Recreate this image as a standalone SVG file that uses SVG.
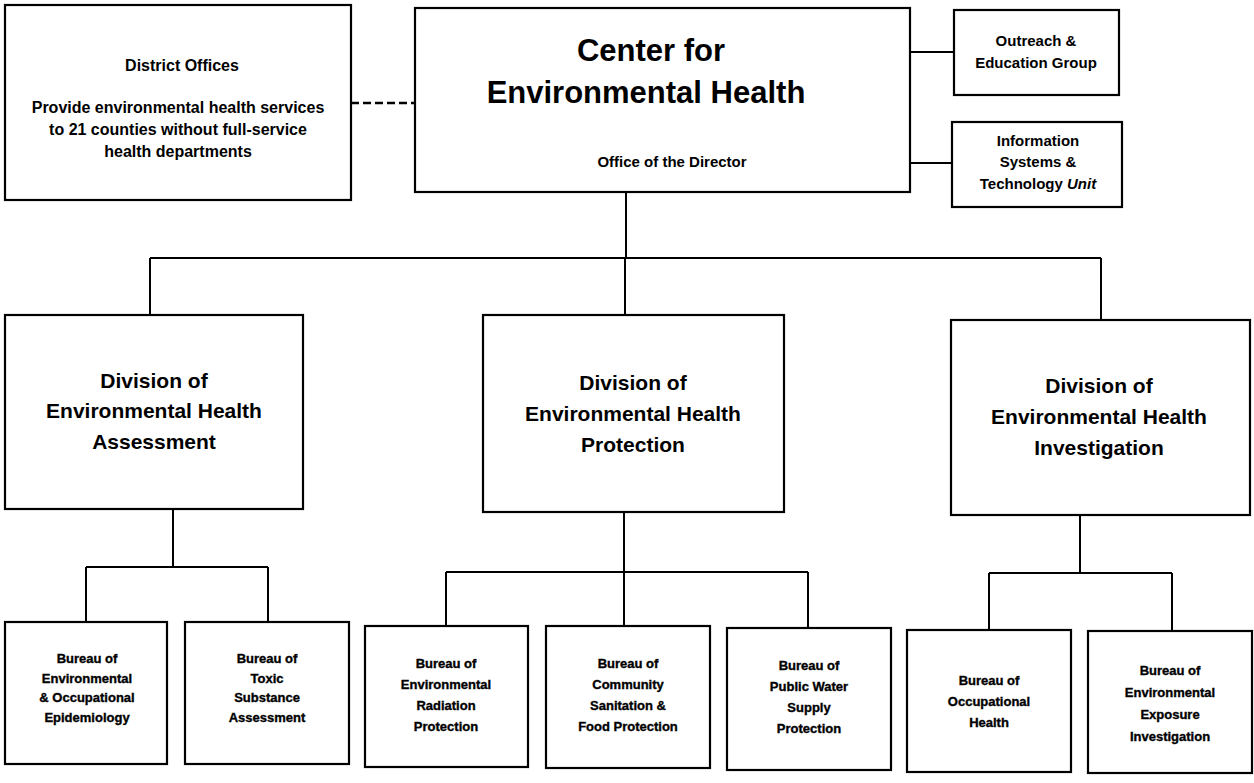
<svg xmlns="http://www.w3.org/2000/svg" width="1254" height="783" viewBox="0 0 1254 783">
<style>
.box{fill:#fff;stroke:#000;stroke-width:2.2}
.ln{fill:none;stroke:#000;stroke-width:2}
.dash{fill:none;stroke:#000;stroke-width:2.5;stroke-dasharray:8 4}
text{font-family:"Liberation Sans",Arial,sans-serif;font-weight:bold;fill:#000;text-anchor:middle}
.t1{font-size:31px}
.t2{font-size:21px}
.t3{font-size:16px}
.t4{font-size:15px}
.t5{font-size:13px;stroke:#000;stroke-width:0.35}
</style>
<rect width="1254" height="783" fill="#fff"/>
<g id="connectors">
<line class="dash" x1="351" y1="103" x2="415" y2="103"/>
<line class="ln" x1="910" y1="52" x2="954" y2="52"/>
<line class="ln" x1="910" y1="163" x2="952" y2="163"/>
<path class="ln" d="M626 192 V258 M150 258 H1101 M150 258 V315 M625 258 V315 M1101 258 V320"/>
<path class="ln" d="M173 509 V567 M86 567 H268 M86 567 V622 M268 567 V622"/>
<path class="ln" d="M624 512 V572 M446 572 H808 M446 572 V626 M624 572 V626 M808 572 V628"/>
<path class="ln" d="M1080 515 V573 M989 573 H1172 M989 573 V630 M1172 573 V631"/>
</g>
<g id="district">
<rect class="box" x="5" y="5" width="346" height="195"/>
<text class="t3" x="182" y="71">District Offices</text>
<text class="t3" x="178" y="113">Provide environmental health services</text>
<text class="t3" x="178" y="135">to 21 counties without full-service</text>
<text class="t3" x="178" y="157">health departments</text>
</g>
<g id="center">
<rect class="box" x="415" y="8" width="495" height="184"/>
<text class="t1" x="651" y="61">Center for</text>
<text class="t1" x="646" y="103">Environmental Health</text>
<text class="t4" x="672" y="167">Office of the Director</text>
</g>
<g id="outreach">
<rect class="box" x="954" y="10" width="165" height="85"/>
<text class="t4" x="1036" y="46">Outreach &amp;</text>
<text class="t4" x="1036" y="68">Education Group</text>
</g>
<g id="infosys">
<rect class="box" x="952" y="122" width="170" height="85"/>
<text class="t4" x="1038" y="146">Information</text>
<text class="t4" x="1038" y="167">Systems &amp;</text>
<text class="t4" x="1038" y="189">Technology <tspan font-style="italic">Unit</tspan></text>
</g>
<g id="div-assessment">
<rect class="box" x="5" y="315" width="298" height="194"/>
<text class="t2" x="154" y="388">Division of</text>
<text class="t2" x="154" y="418">Environmental Health</text>
<text class="t2" x="154" y="449">Assessment</text>
</g>
<g id="div-protection">
<rect class="box" x="483" y="315" width="301" height="197"/>
<text class="t2" x="633" y="390">Division of</text>
<text class="t2" x="633" y="421">Environmental Health</text>
<text class="t2" x="633" y="452">Protection</text>
</g>
<g id="div-investigation">
<rect class="box" x="951" y="320" width="299" height="195"/>
<text class="t2" x="1099" y="393">Division of</text>
<text class="t2" x="1099" y="424">Environmental Health</text>
<text class="t2" x="1099" y="455">Investigation</text>
</g>
<g id="bureau-eoe">
<rect class="box" x="5" y="622" width="162" height="142"/>
<text class="t5" x="87" y="663">Bureau of</text>
<text class="t5" x="87" y="683">Environmental</text>
<text class="t5" x="87" y="702">&amp; Occupational</text>
<text class="t5" x="87" y="722">Epidemiology</text>
</g>
<g id="bureau-tsa">
<rect class="box" x="185" y="622" width="164" height="142"/>
<text class="t5" x="267" y="663">Bureau of</text>
<text class="t5" x="267" y="683">Toxic</text>
<text class="t5" x="267" y="702">Substance</text>
<text class="t5" x="267" y="722">Assessment</text>
</g>
<g id="bureau-erp">
<rect class="box" x="365" y="626" width="163" height="141"/>
<text class="t5" x="446" y="668">Bureau of</text>
<text class="t5" x="446" y="689">Environmental</text>
<text class="t5" x="446" y="710">Radiation</text>
<text class="t5" x="446" y="731">Protection</text>
</g>
<g id="bureau-csfp">
<rect class="box" x="546" y="626" width="164" height="142"/>
<text class="t5" x="628" y="668">Bureau of</text>
<text class="t5" x="628" y="689">Community</text>
<text class="t5" x="628" y="710">Sanitation &amp;</text>
<text class="t5" x="628" y="731">Food Protection</text>
</g>
<g id="bureau-pwsp">
<rect class="box" x="727" y="628" width="164" height="142"/>
<text class="t5" x="809" y="670">Bureau of</text>
<text class="t5" x="809" y="691">Public Water</text>
<text class="t5" x="809" y="712">Supply</text>
<text class="t5" x="809" y="733">Protection</text>
</g>
<g id="bureau-oh">
<rect class="box" x="907" y="630" width="164" height="142"/>
<text class="t5" x="989" y="685">Bureau of</text>
<text class="t5" x="989" y="706">Occupational</text>
<text class="t5" x="989" y="727">Health</text>
</g>
<g id="bureau-eei">
<rect class="box" x="1088" y="631" width="164" height="142"/>
<text class="t5" x="1170" y="675">Bureau of</text>
<text class="t5" x="1170" y="697">Environmental</text>
<text class="t5" x="1170" y="719">Exposure</text>
<text class="t5" x="1170" y="741">Investigation</text>
</g>
</svg>
